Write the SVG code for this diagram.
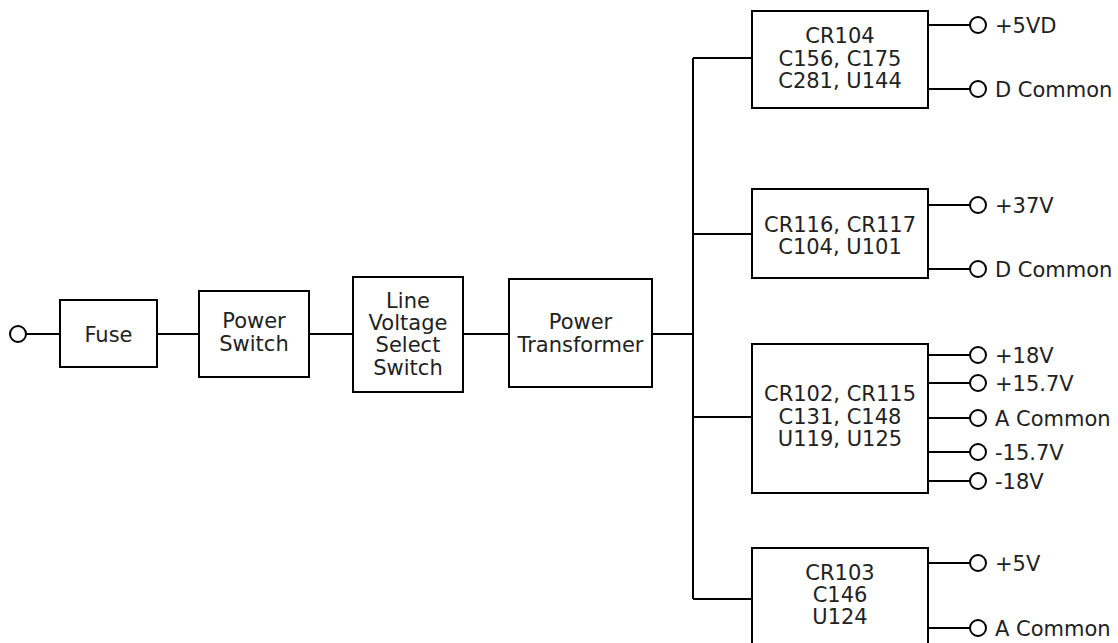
<svg xmlns="http://www.w3.org/2000/svg" width="1118" height="643" viewBox="0 0 1118 643">
<style>
.box{fill:#fff;stroke:#000;stroke-width:2}
.w{stroke:#000;stroke-width:2;fill:none}
.t{font-family:"DejaVu Sans","Liberation Sans",sans-serif;font-size:21px;fill:#222}
.c{text-anchor:middle}
.term{fill:#fff;stroke:#000;stroke-width:2}
</style>
<rect width="1118" height="643" fill="#fff"/>
<g id="connectors">
<path class="w" d="M26 334H60M157 334H199M309 334H353M463 334H509M652 334H693"/>
<path class="w" d="M693 58V599M693 58H752M693 234H752M693 417H752M693 599H752"/>
<path class="w" d="M928 25H970M928 89H970M928 205H970M928 269H970M928 355H970M928 383H970M928 418H970M928 452H970M928 481H970M928 563H970M928 628H970"/>
</g>
<g id="input"><circle class="term" cx="18" cy="334" r="8"/></g>
<g id="fuse"><rect class="box" x="60" y="300" width="97" height="67"/><text class="t c" x="108.5" y="341.5">Fuse</text></g>
<g id="power-switch"><rect class="box" x="199" y="291" width="110" height="86"/><text class="t c" x="254" y="328">Power</text><text class="t c" x="254" y="351">Switch</text></g>
<g id="line-voltage"><rect class="box" x="353" y="277" width="110" height="115"/><text class="t c" x="408" y="307.5">Line</text><text class="t c" x="408" y="329.5">Voltage</text><text class="t c" x="408" y="352">Select</text><text class="t c" x="408" y="374.5">Switch</text></g>
<g id="power-transformer"><rect class="box" x="509" y="279" width="143" height="108"/><text class="t c" x="580.5" y="329">Power</text><text class="t c" x="580.5" y="352">Transformer</text></g>
<g id="supply1"><rect class="box" x="752" y="11" width="176" height="97"/><text class="t c" x="840" y="43">CR104</text><text class="t c" x="840" y="65.5">C156, C175</text><text class="t c" x="840" y="88">C281, U144</text></g>
<g id="supply2"><rect class="box" x="752" y="189" width="176" height="89"/><text class="t c" x="840" y="232">CR116, CR117</text><text class="t c" x="840" y="254">C104, U101</text></g>
<g id="supply3"><rect class="box" x="752" y="344" width="176" height="149"/><text class="t c" x="840" y="401">CR102, CR115</text><text class="t c" x="840" y="423.5">C131, C148</text><text class="t c" x="840" y="446">U119, U125</text></g>
<g id="supply4"><rect class="box" x="752" y="548" width="176" height="110"/><text class="t c" x="840" y="579.5">CR103</text><text class="t c" x="840" y="601.5">C146</text><text class="t c" x="840" y="623.5">U124</text></g>
<g id="outputs">
<circle class="term" cx="978" cy="25" r="8"/><text class="t" x="995" y="32.5">+5VD</text>
<circle class="term" cx="978" cy="89" r="8"/><text class="t" x="995" y="96.5">D Common</text>
<circle class="term" cx="978" cy="205" r="8"/><text class="t" x="995" y="212.5">+37V</text>
<circle class="term" cx="978" cy="269" r="8"/><text class="t" x="995" y="276.5">D Common</text>
<circle class="term" cx="978" cy="355" r="8"/><text class="t" x="995" y="362.5">+18V</text>
<circle class="term" cx="978" cy="383" r="8"/><text class="t" x="995" y="390.5">+15.7V</text>
<circle class="term" cx="978" cy="418" r="8"/><text class="t" x="995" y="425.5">A Common</text>
<circle class="term" cx="978" cy="452" r="8"/><text class="t" x="995" y="459.5">-15.7V</text>
<circle class="term" cx="978" cy="481" r="8"/><text class="t" x="995" y="488.5">-18V</text>
<circle class="term" cx="978" cy="563" r="8"/><text class="t" x="995" y="570.5">+5V</text>
<circle class="term" cx="978" cy="628" r="8"/><text class="t" x="995" y="635.5">A Common</text>
</g>
</svg>
